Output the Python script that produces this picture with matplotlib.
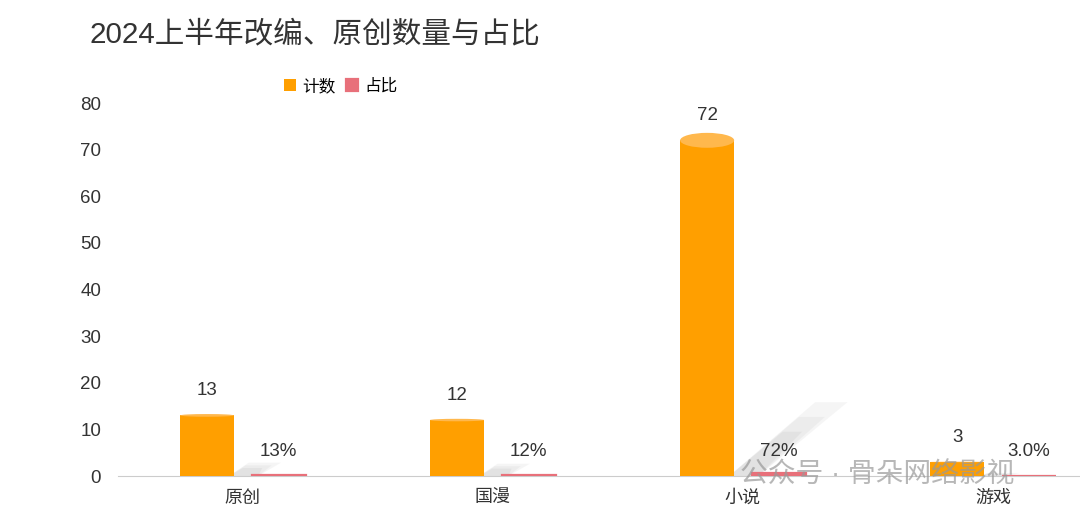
import matplotlib.pyplot as plt
from matplotlib.patches import Ellipse, Polygon
import numpy as np

plt.rcParams['font.family'] = ['Liberation Sans', 'Noto Sans CJK SC', 'DejaVu Sans']

# === Data ===
categories = ['原创', '国漫', '小说', '游戏']
counts = [13, 12, 72, 3]
shares = [0.13, 0.12, 0.72, 0.03]
share_labels = ['13%', '12%', '72%', '3.0%']

orange = '#FF9F00'
pink = '#E8707A'
text_col = '#333333'

fig = plt.figure(figsize=(10.8, 5.24), dpi=100)
ax = fig.add_axes([0.109, 0.0916, 0.891, 0.7118])

x = np.arange(len(categories))
w = 0.216
off = 0.143

# soft shadows behind the count bars (fake 3d look)
for xi, c in zip(x, counts):
    right = xi - off + w / 2
    h = c * 0.22
    dx = c * 0.0045
    for k, a in enumerate([0.09, 0.09, 0.11]):
        s = 1 - k * 0.2
        shadow = Polygon([(right - 0.02, 0), (right + dx * s, h * s),
                          (right + dx * s + w * 0.6 * s, h * s),
                          (right + w * 0.45, 0)],
                         closed=True, facecolor='#999999', edgecolor='none',
                         alpha=a, zorder=1)
        ax.add_patch(shadow)

ax.bar(x - off, counts, width=w, color=orange, zorder=3, label='计数')
ax.bar(x + off, shares, width=w, color=pink, edgecolor=pink, linewidth=1.6,
       zorder=3, label='占比')

# top ellipse on each cylinder
for xi, c in zip(x, counts):
    eh = 3.2 * c / 72
    ax.add_patch(Ellipse((xi - off, c), w, eh, facecolor='#FFB84D',
                         edgecolor='none', zorder=4))

# value labels
for xi, c in zip(x, counts):
    ax.text(xi - off, c + 5.3, str(c), ha='center', va='center', fontsize=13.5,
            color=text_col)
for xi, s in zip(x, share_labels):
    ax.text(xi + off, 5.2, s, ha='center', va='center', fontsize=13.5,
            color=text_col)

ax.set_ylim(0, 80)
ax.set_xlim(-0.5, 3.348)
ax.set_yticks(range(0, 81, 10))
ax.set_xticks(x)
ax.set_xticklabels(categories)
ax.tick_params(axis='y', length=0, pad=12, labelsize=13.5, labelcolor=text_col)
ax.tick_params(axis='x', length=0, pad=10, labelsize=13, labelcolor=text_col)
for side in ['top', 'right', 'left']:
    ax.spines[side].set_visible(False)
ax.spines['bottom'].set_color('#cccccc')
ax.spines['bottom'].set_zorder(2)

fig.text(0.083, 0.935, '2024上半年改编、原创数量与占比', fontsize=21.3,
         color=text_col, ha='left', va='center')
ax.legend(loc='center', bbox_to_anchor=(0.232, 1.045), ncol=2, frameon=False,
          fontsize=12, handlelength=0.7, handleheight=0.7, columnspacing=0.6,
          handletextpad=0.4)

# watermark
fig.text(0.685, 0.092, '公众号 · 骨朵网络影视', fontsize=20, color='#999999',
         alpha=0.7, ha='left', va='center', zorder=10)

fig.savefig('out.png', dpi=100, facecolor='white')
